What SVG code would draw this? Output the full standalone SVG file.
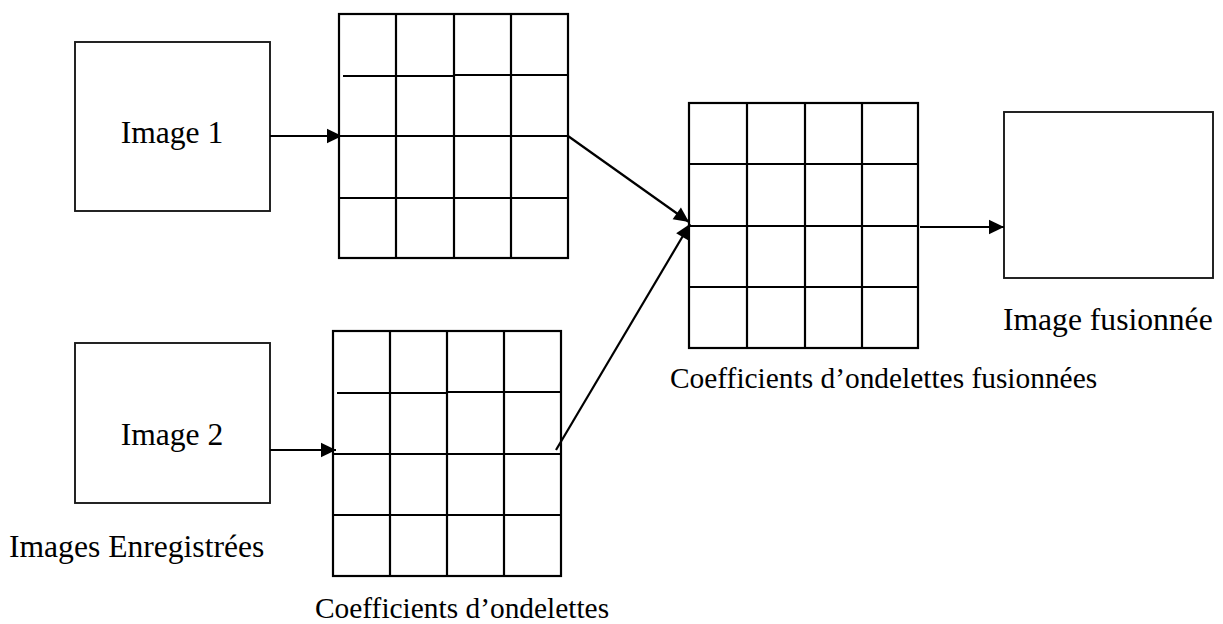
<svg xmlns="http://www.w3.org/2000/svg" width="1223" height="624" viewBox="0 0 1223 624">
  <defs>
    <marker id="head" markerUnits="userSpaceOnUse" markerWidth="17" markerHeight="17" viewBox="0 0 17 17" refX="16" refY="8.5" orient="auto">
      <path d="M1,1.3 L16,8.5 L1,15.7 Z" fill="#000"/>
    </marker>
    <style>
      .box { fill: #fff; stroke: #1a1a1a; stroke-width: 1.9; }
      .grid { fill: none; stroke: #000; stroke-width: 2.2; }
      .wire { fill: none; stroke: #000; stroke-width: 2.2; marker-end: url(#head); }
      .lbl { font-family: "Liberation Serif", "Times New Roman", serif; fill: #000; }
      .big { font-size: 31.6px; }
      .small { font-size: 29.4px; }
    </style>
  </defs>

  <rect width="1223" height="624" fill="#fff"/>

  <!-- source images -->
  <g id="image1">
    <rect class="box" x="75" y="42" width="195" height="169"/>
    <text class="lbl big" x="172" y="143" text-anchor="middle">Image 1</text>
  </g>
  <g id="image2">
    <rect class="box" x="75" y="343" width="195" height="160"/>
    <text class="lbl big" x="172" y="445" text-anchor="middle">Image 2</text>
  </g>
  <g id="label-registered">
    <text class="lbl big" x="9" y="557">Images Enregistrées</text>
  </g>

  <!-- wavelet coefficients of image 1 -->
  <g id="coeffs1">
    <rect class="grid" x="339" y="14" width="229" height="244"/>
    <path class="grid" d="M396,14 V258 M454,14 V258 M511,14 V258 M343,76 H454 M454,75 H568 M339,136 H568 M339,198 H568"/>
  </g>

  <!-- wavelet coefficients of image 2 -->
  <g id="coeffs2">
    <rect class="grid" x="333" y="331" width="228" height="245"/>
    <path class="grid" d="M390,331 V576 M447,331 V576 M504,331 V576 M337,393 H447 M447,392 H561 M333,454 H561 M333,515 H561"/>
  </g>
  <g id="label-coeffs">
    <text class="lbl small" x="315" y="618">Coefficients d’ondelettes</text>
  </g>

  <!-- fused coefficients -->
  <g id="coeffs-fused">
    <rect class="grid" x="689" y="103" width="229" height="245"/>
    <path class="grid" d="M747,103 V348 M805,103 V348 M862,103 V348 M689,164 H918 M689,226 H918 M689,287 H918"/>
  </g>
  <g id="label-coeffs-fused">
    <text class="lbl small" x="670" y="388">Coefficients d’ondelettes fusionnées</text>
  </g>

  <!-- fused image -->
  <g id="image-fused">
    <rect class="box" x="1004" y="112" width="209" height="166"/>
    <text class="lbl big" x="1003" y="330">Image fusionnée</text>
  </g>

  <!-- connectors -->
  <g id="connectors">
    <line class="wire" x1="270" y1="136" x2="342" y2="136"/>
    <line class="wire" x1="270" y1="450" x2="336" y2="450"/>
    <line class="wire" x1="568" y1="136" x2="689" y2="222"/>
    <line class="wire" x1="556" y1="450" x2="690" y2="224"/>
    <line class="wire" x1="920" y1="227" x2="1004" y2="227"/>
  </g>
</svg>
